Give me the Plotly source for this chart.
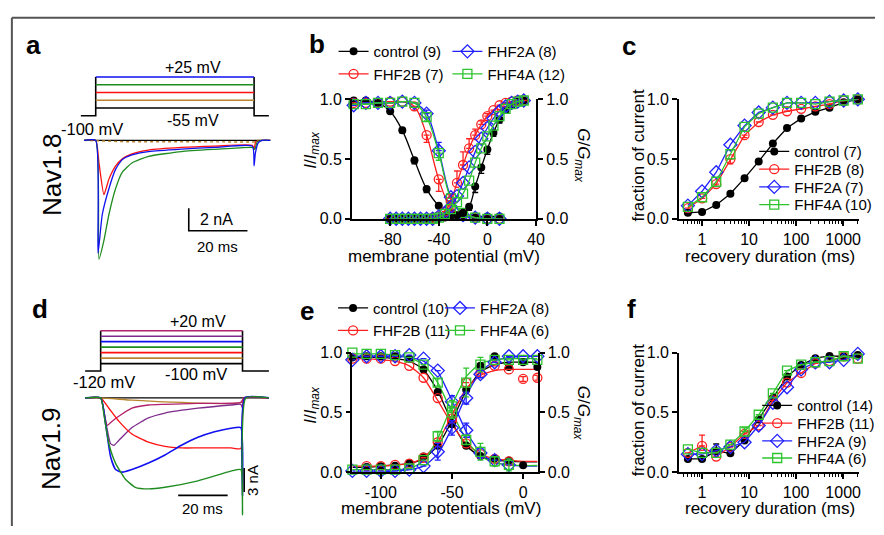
import plotly.graph_objects as go

W, H = 884, 535
FONT = "Arial, Liberation Sans, sans-serif"

# ======================= DATA =======================
# ---- panel a: Nav1.8 protocol (mV) and current traces (ms, nA) ----
a_step_mV = [-55, -35, -15, 5, 25]
a_pulse_ms = [0.0, 53.96]
a_hold_ms = [-5.06, 59.0]

a_t_blue = [-3.95, 0.0, 0.78, 2.23, 4.49, 6.75, 8.97, 12.34, 17.98, 29.21, 40.47, 53.39, 53.96, 54.40, 55.41, 56.76, 59.46]
a_i_blue = [0, 0, -9.99, -6.56, -4.28, -2.57, -1.71, -1.29, -0.99, -0.77, -0.63, -0.51, -2.25, -1.14, -0.2, 0, 0]
a_t_green = [-3.95, 0.0, 1.11, 2.80, 4.49, 6.75, 8.97, 12.34, 17.98, 29.21, 40.47, 53.39, 54.2, 55.1, 56.76, 59.46]
a_i_green = [0, 0, -10.51, -8.85, -6.56, -4.28, -2.85, -2.00, -1.42, -0.99, -0.80, -0.63, -0.80, -0.10, 0, 0]
a_t_red = [-3.95, 0.0, 1.11, 2.80, 4.49, 6.75, 8.97, 12.34, 17.98, 29.21, 40.47, 53.39, 53.96, 54.57, 56.76, 59.46]
a_i_red = [0, 0, -2.00, -4.80, -3.43, -2.28, -1.65, -1.20, -0.86, -0.63, -0.51, -0.43, -0.80, -0.10, 0, 0]
a_t_brown = [-3.95, 0, 10, 30, 53.96, 54.6, 59.46]
a_i_brown = [0, -0.05, -0.12, -0.12, -0.15, 0, 0]
a_t_black = [-3.95, 59.46]
a_i_black = [0, 0]
a_bar_ms, a_bar_nA = 20, 2

# ---- panel d: Nav1.9 protocol and traces ----
d_step_mV = [-100, -80, -60, -40, -20, 0, 20]
d_pulse_ms = [0.0, 57.32]
d_hold_ms = [-6.28, 68.0]

d_t_green = [-6.28, 0, 1.32, 3.32, 6.0, 10.0, 14.0, 19.32, 26.0, 39.32, 52.64, 56.64, 57.32, 58.64, 68.0]
d_i_green = [0, 0, -2.08, -5.68, -8.08, -10.08, -11.08, -11.28, -11.08, -10.28, -9.08, -8.88, -14.48, 0, 0]
d_t_blue = [-6.28, 0, 2.0, 4.0, 6.0, 8.64, 12.64, 19.32, 26.0, 32.64, 39.32, 46.0, 52.64, 56.64, 57.32, 58.24, 68.0]
d_i_blue = [0, 0, -3.28, -7.28, -8.88, -9.2, -8.88, -8.08, -7.08, -5.88, -4.88, -4.2, -3.76, -3.68, -12.08, 0, 0]
d_t_red = [-6.28, 0, 3.32, 7.32, 12.64, 19.32, 26.0, 32.64, 39.32, 52.64, 56.64, 57.32, 58.0, 68.0]
d_i_red = [0, 0, -1.28, -2.88, -4.48, -5.48, -6.0, -6.2, -6.2, -6.2, -6.28, -2.08, 0, 0]
d_t_purple = [-6.28, 0, 2.0, 4.0, 5.32, 7.32, 12.64, 19.32, 26.0, 39.32, 52.64, 56.64, 57.32, 58.0, 68.0]
d_i_purple = [0, 0, -2.88, -5.68, -5.88, -5.28, -3.68, -2.48, -1.88, -1.28, -0.88, -0.8, -1.28, 0, 0]
d_t_crimson = [-6.28, 0, 1.32, 2.64, 4.64, 7.32, 12.64, 19.32, 26.0, 39.32, 56.64, 58.0, 68.0]
d_i_crimson = [0, 0, -1.68, -3.4, -2.88, -2.28, -1.28, -0.88, -0.8, -0.68, -0.56, 0, 0]
d_t_brown = [-6.28, 0, 12.64, 26.0, 56.64, 58.0, 68.0]
d_i_brown = [0, 0, -0.28, -0.48, -0.6, 0, 0]
d_t_black = [-6.28, 68.0]
d_i_black = [0, 0]
d_bar_ms, d_bar_nA = 20, 3

# ---- panel b: Nav1.8 steady-state inactivation / activation ----
b_v_inact = [-110, -100, -90, -80, -70, -60, -50, -40, -30, -20, -10, 0, 10]
b_inact_ctrl = [0.99, 0.99, 0.97, 0.90, 0.74, 0.49, 0.25, 0.11, 0.05, 0.03, 0.02, 0.02, 0.02]
b_inact_2b = [0.97, 0.97, 0.97, 0.98, 0.98, 0.94, 0.70, 0.33, 0.09, 0.03, 0.01, 0.0, 0.0]
b_inact_2a = [0.95, 0.97, 0.97, 0.97, 0.98, 0.97, 0.88, 0.57, 0.18, 0.03, 0.01, 0.0, 0.0]
b_inact_4a = [0.96, 0.96, 0.97, 0.97, 0.98, 0.97, 0.85, 0.55, 0.17, 0.05, 0.01, 0.0, 0.0]
b_err_inact_ctrl = [0, 0, 0, 0.01, 0.02, 0.03, 0.03, 0.02, 0.02, 0, 0, 0, 0]
b_err_inact_2b = [0, 0, 0, 0, 0, 0.03, 0.06, 0.10, 0.03, 0, 0, 0, 0]
b_err_inact_2a = [0, 0, 0, 0, 0, 0, 0.03, 0.07, 0.03, 0, 0, 0, 0]
b_err_inact_4a = [0, 0, 0, 0, 0, 0, 0.03, 0.06, 0.02, 0, 0, 0, 0]

b_v_act = [-80, -75, -70, -65, -60, -55, -50, -45, -40, -35, -30, -25, -20, -15, -10, -5, 0, 5, 10, 15, 20, 25, 30]
b_act_ctrl = [0, 0, 0, 0, 0, 0, 0, 0, 0.005, 0.01, 0.02, 0.03, 0.05, 0.10, 0.27, 0.43, 0.58, 0.72, 0.83, 0.91, 0.95, 0.98, 0.99]
b_act_2b = [0, 0, 0, 0, 0, 0, 0, 0.01, 0.02, 0.06, 0.15, 0.30, 0.45, 0.59, 0.70, 0.79, 0.86, 0.91, 0.95, 0.97, 0.98, 0.99, 0.99]
b_act_2a = [0, 0, 0, 0, 0, 0, 0, 0, 0.02, 0.05, 0.10, 0.19, 0.30, 0.43, 0.56, 0.67, 0.76, 0.84, 0.90, 0.94, 0.97, 0.98, 0.99]
b_act_4a = [0, 0, 0, 0, 0, 0, 0, 0, 0.01, 0.04, 0.08, 0.14, 0.21, 0.32, 0.47, 0.59, 0.69, 0.78, 0.86, 0.92, 0.96, 0.98, 0.99]
b_err_act_ctrl = [0, 0, 0, 0, 0, 0, 0, 0, 0, 0, 0, 0.01, 0.02, 0.03, 0.05, 0.05, 0.04, 0.03, 0.03, 0.02, 0, 0, 0]
b_err_act_2b = [0, 0, 0, 0, 0, 0, 0, 0, 0, 0.02, 0.05, 0.10, 0.11, 0.08, 0.05, 0.03, 0.02, 0, 0, 0, 0, 0, 0]

# ---- panels c / f: recovery from inactivation ----
rec_ms = [0.5, 1, 2, 4, 8, 16, 32, 64, 128, 256, 512, 1024, 2048]
c_ctrl = [0.05, 0.057, 0.116, 0.21, 0.34, 0.48, 0.63, 0.76, 0.84, 0.895, 0.93, 0.975, 1.0]
c_2b = [0.09, 0.17, 0.29, 0.50, 0.70, 0.81, 0.87, 0.90, 0.92, 0.94, 0.96, 0.99, 1.0]
c_2a = [0.11, 0.23, 0.39, 0.62, 0.78, 0.89, 0.93, 0.97, 0.97, 0.97, 0.98, 0.99, 1.0]
c_4a = [0.10, 0.18, 0.31, 0.54, 0.77, 0.88, 0.93, 0.97, 0.97, 0.96, 0.98, 0.99, 1.0]
c_err_2b = [0, 0, 0.02, 0.04, 0.02, 0, 0, 0, 0, 0, 0, 0, 0]
c_err_ctrl = [0, 0, 0, 0, 0, 0, 0, 0, 0.01, 0.02, 0.01, 0, 0]

f_ctrl = [0.11, 0.11, 0.175, 0.157, 0.265, 0.44, 0.62, 0.80, 0.897, 0.954, 0.973, 0.968, 0.98]
f_2b = [0.16, 0.22, 0.13, 0.21, 0.32, 0.39, 0.60, 0.75, 0.83, 0.91, 0.93, 0.97, 0.95]
f_2a = [0.15, 0.15, 0.18, 0.21, 0.25, 0.39, 0.58, 0.71, 0.86, 0.92, 0.92, 0.94, 0.99]
f_4a = [0.19, 0.16, 0.16, 0.23, 0.34, 0.48, 0.66, 0.85, 0.90, 0.92, 0.93, 0.97, 0.95]
f_err_ctrl = [0, 0, 0.06, 0, 0, 0.02, 0, 0, 0, 0, 0, 0, 0]
f_err_2b = [0, 0.09, 0, 0, 0.02, 0, 0, 0, 0, 0, 0, 0, 0]
f_err_4a = [0, 0, 0, 0, 0.03, 0, 0, 0, 0, 0, 0, 0, 0]

# ---- panel e: Nav1.9 inactivation / activation ----
e_v_inact = [-120, -110, -100, -90, -80, -70, -60, -50, -40, -30, -20, -10, 0]
e_inact_ctrl = [0.96, 0.97, 0.97, 0.97, 0.95, 0.86, 0.67, 0.41, 0.22, 0.135, 0.116, 0.097, 0.057]
e_inact_2b = [0.95, 0.95, 0.95, 0.93, 0.89, 0.79, 0.62, 0.43, 0.24, 0.15, 0.11, 0.09]
e_inact_2a = [0.94, 0.97, 0.97, 0.97, 0.98, 0.95, 0.85, 0.59, 0.35, 0.16, 0.10, 0.06]
e_inact_4a = [1.0, 0.99, 0.99, 0.98, 0.96, 0.90, 0.75, 0.55, 0.27, 0.17, 0.09, 0.06]
e_err_inact_2a = [0, 0, 0, 0, 0, 0, 0, 0.05, 0.06, 0.04, 0, 0]
e_err_inact_4a = [0, 0, 0, 0, 0, 0, 0.03, 0.05, 0.04, 0.07, 0.04, 0.05]

e_v_act = [-120, -110, -100, -90, -80, -70, -60, -50, -40, -30, -20, -10, 0, 10]
e_act_ctrl = [None, 0.043, 0.049, 0.054, 0.076, 0.13, 0.22, 0.40, 0.69, 0.89, 0.97, 0.88, 0.92, 0.88]
e_act_2b = [None, 0.05, 0.05, 0.06, 0.07, 0.12, 0.25, 0.45, 0.75, 0.83, 0.89, 0.86, 0.78, 0.79]
e_act_2a = [0.01, 0.01, 0.01, 0.01, 0.02, 0.05, 0.17, 0.37, 0.62, 0.82, 0.92, 0.97, 0.97, 0.97]
e_act_4a = [0.02, 0.02, 0.02, 0.02, 0.03, 0.10, 0.30, 0.50, 0.75, 0.90, 0.94, 0.94, 0.94, 0.94]
e_err_act_2a = [0, 0, 0, 0, 0, 0, 0.07, 0.06, 0.05, 0.03, 0, 0, 0, 0]
e_err_act_4a = [0, 0, 0, 0, 0, 0, 0.04, 0.05, 0.12, 0.06, 0, 0, 0, 0]
e_err_act_2b = [0, 0, 0, 0, 0, 0, 0, 0, 0, 0, 0, 0, 0.02, 0.02]

# Boltzmann fit curves (panel e)
e_v_fit = [-120, -110, -100, -90, -80, -70, -60, -50, -40, -30, -20, -10, 0, 10]
e_fit_inact_ctrl = [0.96, 0.96, 0.96, 0.95, 0.93, 0.86, 0.68, 0.42, 0.22, 0.13, 0.10, 0.09, 0.085, 0.085]
e_fit_inact_2b = [0.95, 0.95, 0.94, 0.93, 0.89, 0.79, 0.60, 0.40, 0.24, 0.15, 0.11, 0.10, 0.09, 0.09]
e_fit_inact_2a = [0.97, 0.97, 0.97, 0.97, 0.96, 0.93, 0.84, 0.60, 0.34, 0.16, 0.08, 0.06, 0.05, 0.05]
e_fit_inact_4a = [0.99, 0.99, 0.99, 0.98, 0.96, 0.90, 0.75, 0.50, 0.27, 0.13, 0.08, 0.06, 0.055, 0.055]
e_fit_act_ctrl = [0.04, 0.04, 0.05, 0.06, 0.07, 0.11, 0.22, 0.43, 0.68, 0.84, 0.90, 0.92, 0.92, 0.92]
e_fit_act_2b = [0.05, 0.05, 0.05, 0.06, 0.07, 0.12, 0.25, 0.48, 0.70, 0.81, 0.85, 0.86, 0.86, 0.86]
e_fit_act_2a = [0.0, 0.0, 0.0, 0.01, 0.02, 0.05, 0.15, 0.37, 0.64, 0.84, 0.93, 0.96, 0.97, 0.97]
e_fit_act_4a = [0.02, 0.02, 0.02, 0.02, 0.03, 0.09, 0.28, 0.56, 0.80, 0.91, 0.94, 0.95, 0.95, 0.95]

y_ticks = [0, 0.5, 1.0]
y_ticktext = ["0.0", "0.5", "1.0"]
b_xticks = [-80, -40, 0, 40]
b_xticktext = ["-80", "-40", "0", "40"]
e_xticks = [-100, -50, 0]
e_xticktext = ["-100", "-50", "0"]
rec_ticks = [1, 10, 100, 1000]
rec_ticktext = ["1", "10", "100", "1000"]

names_b = ["control (9)", "FHF2B (7)", "FHF2A (8)", "FHF4A (12)"]
names_c = ["control (7)", "FHF2B (8)", "FHF2A (7)", "FHF4A (10)"]
names_e = ["control (10)", "FHF2B (11)", "FHF2A (8)", "FHF4A (6)"]
names_f = ["control (14)", "FHF2B (11)", "FHF2A (9)", "FHF4A (6)"]

# ======================= STYLE / HELPERS =======================
BLACK = "black"
RED = "#ff2020"
BLUE = "#2020ff"
GREEN = "#2ec42e"
T_GREEN = "#1f8c1f"
T_BROWN = "#b8862e"
T_PURPLE = "#7d2a8c"
T_CRIMSON = "#b3206a"
T_BLUE = "#1010f0"
T_RED = "#ff1010"


def px(x):
    return x / W


def py(y):
    return 1 - y / H


def dom_x(a, b):
    return [a / W, b / W]


def dom_y(top, bottom):
    return [1 - bottom / H, 1 - top / H]


MARK = {
    "ctrl": dict(symbol="circle", size=8, color=BLACK, line=dict(width=0)),
    "2b": dict(symbol="circle-open", size=9, color=RED, line=dict(width=1.3, color=RED)),
    "2a": dict(symbol="diamond-open", size=10, color=BLUE, line=dict(width=1.3, color=BLUE)),
    "4a": dict(symbol="square-open", size=9, color=GREEN, line=dict(width=1.3, color=GREEN)),
}
COL = {"ctrl": BLACK, "2b": RED, "2a": BLUE, "4a": GREEN}

fig = go.Figure()


def err(plus=None, minus=None, color="black"):
    if plus is None and minus is None:
        return None
    n = len(plus if plus is not None else minus)
    return dict(type="data", symmetric=False,
                array=plus if plus is not None else [0] * n,
                arrayminus=minus if minus is not None else [0] * n,
                color=color, thickness=1.3, width=3)


def data_trace(x, y, key, xa, ya, name=None, legend=None, shape="linear", plus=None, minus=None,
               mode="lines+markers", show=False):
    fig.add_trace(go.Scatter(
        x=x, y=y, mode=mode, xaxis=xa, yaxis=ya, name=name,
        marker=MARK[key], line=dict(color=COL[key], width=1.3, shape=shape),
        error_y=err(plus, minus, COL[key]), cliponaxis=False,
        showlegend=show, legend=legend, connectgaps=False, hoverinfo="skip"))


def legend_entry(key, name, legend, xa, ya):
    # legend-only sample (line + marker), no data marks
    fig.add_trace(go.Scatter(x=[None], y=[None], mode="lines+markers", xaxis=xa, yaxis=ya, name=name,
                             marker=MARK[key], line=dict(color=COL[key], width=1.3),
                             showlegend=True, legend=legend, hoverinfo="skip"))


def line_trace(x, y, color, xa, ya, width=1.3, dash="solid", shape="linear"):
    fig.add_trace(go.Scatter(x=x, y=y, mode="lines", xaxis=xa, yaxis=ya,
                             line=dict(color=color, width=width, dash=dash, shape=shape, smoothing=0.5),
                             showlegend=False, hoverinfo="skip", cliponaxis=False))


# ======================= PANEL a =======================
a_cols = [BLACK, T_BROWN, T_RED, T_GREEN, T_BLUE]
top_a = len(a_step_mV) - 1
line_trace([a_hold_ms[0], a_pulse_ms[0], a_pulse_ms[0]], [-1, -1, top_a], BLACK, "x", "y2", 1.6)
line_trace([a_pulse_ms[1], a_pulse_ms[1], a_hold_ms[1]], [top_a, -1, -1], BLACK, "x", "y2", 1.6)
for i, c in enumerate(a_cols):
    line_trace(a_pulse_ms, [i, i], c, "x", "y2", 1.6)

line_trace(a_t_black, a_i_black, BLACK, "x", "y", 1.2)
line_trace(a_t_brown, a_i_brown, T_BROWN, "x", "y", 1.4, dash="dot")
line_trace(a_t_red, a_i_red, T_RED, "x", "y", 1.3, shape="spline")
line_trace(a_t_green, a_i_green, T_GREEN, "x", "y", 1.3, shape="spline")
line_trace(a_t_blue, a_i_blue, T_BLUE, "x", "y", 1.3, shape="spline")
a_bar_x0, a_bar_y0 = 31.7, -8.0
line_trace([a_bar_x0, a_bar_x0, a_bar_x0 + a_bar_ms], [a_bar_y0 + a_bar_nA, a_bar_y0, a_bar_y0], BLACK, "x", "y", 1.6)

# ======================= PANEL d =======================
d_cols = [BLACK, T_BROWN, T_RED, T_GREEN, T_BLUE, T_PURPLE, T_CRIMSON]
top_d = len(d_step_mV) - 1
d_hold_idx = -1.35
line_trace([d_hold_ms[0], d_pulse_ms[0], d_pulse_ms[0]], [d_hold_idx, d_hold_idx, top_d], BLACK, "x4", "y7", 1.6)
line_trace([d_pulse_ms[1], d_pulse_ms[1], d_hold_ms[1]], [top_d, d_hold_idx, d_hold_idx], BLACK, "x4", "y7", 1.6)
for i, c in enumerate(d_cols):
    line_trace(d_pulse_ms, [i, i], c, "x4", "y7", 1.6)

line_trace(d_t_black, d_i_black, BLACK, "x4", "y6", 1.2)
line_trace(d_t_brown, d_i_brown, T_BROWN, "x4", "y6", 1.3, shape="spline")
line_trace(d_t_crimson, d_i_crimson, T_CRIMSON, "x4", "y6", 1.3, shape="spline")
line_trace(d_t_purple, d_i_purple, T_PURPLE, "x4", "y6", 1.3, shape="spline")
line_trace(d_t_red, d_i_red, T_RED, "x4", "y6", 1.3, shape="spline")
line_trace(d_t_blue, d_i_blue, T_BLUE, "x4", "y6", 1.6, shape="spline")
line_trace(d_t_green, d_i_green, T_GREEN, "x4", "y6", 1.4, shape="spline")
d_vbar_x, d_vbar_y0 = 58.0, -11.68
line_trace([d_vbar_x, d_vbar_x], [d_vbar_y0, d_vbar_y0 + d_bar_nA], BLACK, "x4", "y6", 1.6)
d_hbar_x0, d_hbar_y = 31.32, -12.08
line_trace([d_hbar_x0, d_hbar_x0 + d_bar_ms], [d_hbar_y, d_hbar_y], BLACK, "x4", "y6", 1.6)

# ======================= PANEL b =======================
b_sets = [("ctrl", b_inact_ctrl, b_act_ctrl, None, b_err_inact_ctrl, None, b_err_act_ctrl, "legend"),
          ("2b", b_inact_2b, b_act_2b, None, b_err_inact_2b, b_err_act_2b, None, "legend"),
          ("2a", b_inact_2a, b_act_2a, b_err_inact_2a, None, None, None, "legend2"),
          ("4a", b_inact_4a, b_act_4a, None, b_err_inact_4a, None, None, "legend2")]
for (k, inact, act, ip, im, ap, am, lg), nm in zip(b_sets, names_b):
    data_trace(b_v_act, act, k, "x2", "y4", shape="spline", plus=ap, minus=am)
    data_trace(b_v_inact, inact, k, "x2", "y3", name=nm, legend=lg, shape="spline", plus=ip, minus=im, show=True)

# ======================= PANEL c =======================
c_sets = [("ctrl", c_ctrl, c_err_ctrl, None), ("2b", c_2b, None, c_err_2b), ("2a", c_2a, None, None), ("4a", c_4a, None, None)]
c_legs = ["legend3", "legend7", "legend8", "legend9"]
for (k, vals, ep, em), nm, lg in zip(c_sets, names_c, c_legs):
    data_trace(rec_ms, vals, k, "x3", "y5", name=nm, legend=lg, plus=ep, minus=em, show=True)

# ======================= PANEL e =======================
e_fits = [("ctrl", e_fit_inact_ctrl, e_fit_act_ctrl), ("2b", e_fit_inact_2b, e_fit_act_2b),
          ("2a", e_fit_inact_2a, e_fit_act_2a), ("4a", e_fit_inact_4a, e_fit_act_4a)]
for k, fi, fa in e_fits:
    line_trace(e_v_fit, fi, COL[k], "x5", "y8", 1.3, shape="spline")
    line_trace(e_v_fit, fa, COL[k], "x5", "y9", 1.3, shape="spline")
e_sets = [("ctrl", e_inact_ctrl, e_act_ctrl, None, None, "legend4"),
          ("2b", e_inact_2b, e_act_2b, None, e_err_act_2b, "legend4"),
          ("2a", e_inact_2a, e_act_2a, e_err_inact_2a, e_err_act_2a, "legend5"),
          ("4a", e_inact_4a, e_act_4a, e_err_inact_4a, e_err_act_4a, "legend5")]
for (k, inact, act, ei, ea, lg), nm in zip(e_sets, names_e):
    data_trace(e_v_act, act, k, "x5", "y9", mode="markers", plus=ea, minus=ea)
    data_trace(e_v_inact[:len(inact)], inact, k, "x5", "y8", mode="markers", plus=ei, minus=ei)
    legend_entry(k, nm, lg, "x5", "y8")

# ======================= PANEL f =======================
f_sets = [("ctrl", f_ctrl, f_err_ctrl), ("2b", f_2b, f_err_2b), ("2a", f_2a, None), ("4a", f_4a, f_err_4a)]
f_legs = ["legend6", "legend10", "legend11", "legend12"]
for (k, vals, e), nm, lg in zip(f_sets, names_f, f_legs):
    data_trace(rec_ms, vals, k, "x6", "y10", name=nm, legend=lg, plus=e, show=True)

# ======================= LAYOUT =======================
hidden = dict(visible=False, showgrid=False, zeroline=False, fixedrange=True)
ax = dict(showline=True, linecolor="black", linewidth=1.6, ticks="outside", ticklen=5, tickwidth=1.5,
          tickcolor="black", showgrid=False, zeroline=False, tickfont=dict(family=FONT, size=16, color="black"))
yax = dict(ax, range=[0, 1], tickvals=y_ticks, ticktext=y_ticktext)
minor_log = dict(ticks="outside", ticklen=3, tickwidth=1, tickcolor="black", showgrid=False,
                 tickvals=[0.4, 0.5, 0.6, 0.7, 0.8, 0.9, 2, 3, 4, 5, 6, 7, 8, 9, 20, 30, 40, 50, 60, 70, 80, 90,
                           200, 300, 400, 500, 600, 700, 800, 900, 2000])
logx = dict(ax, type="log", range=[-0.49, 3.34], tickvals=rec_ticks, ticktext=rec_ticktext, minor=minor_log)

LEG_OFF = 22  # vertical offset from legend top to first row centre


def leg(x, row_y):
    return dict(x=px(x), y=py(row_y - LEG_OFF), xanchor="left", yanchor="top", bgcolor="rgba(0,0,0,0)",
                font=dict(family=FONT, size=15, color="black"), tracegroupgap=0, itemwidth=30)


layout = dict(
    width=W, height=H, margin=dict(l=0, r=0, t=0, b=0),
    paper_bgcolor="white", plot_bgcolor="rgba(0,0,0,0)",
    font=dict(family=FONT, color="black"),
    xaxis=dict(hidden, domain=dom_x(60, 290), range=[-12.38, 65.19], anchor="y"),
    yaxis=dict(hidden, domain=dom_y(128, 265), range=[-10.99, 0.745], anchor="x"),
    yaxis2=dict(hidden, domain=dom_y(60, 118), range=[-1.84, 5.41], anchor="x"),
    xaxis2=dict(ax, domain=dom_x(355.5, 541.7), range=[-111.5, 40.2], anchor="y3",
                tickvals=b_xticks, ticktext=b_xticktext),
    yaxis3=dict(yax, domain=dom_y(94.3, 217.7), anchor="x2"),
    yaxis4=dict(yax, overlaying="y3", side="right", anchor="x2"),
    xaxis3=dict(logx, domain=dom_x(686, 868), anchor="y5"),
    yaxis5=dict(yax, domain=dom_y(94.3, 217.7), anchor="x3"),
    xaxis4=dict(hidden, domain=dom_x(60, 290), range=[-16.68, 75.32], anchor="y6"),
    yaxis6=dict(hidden, domain=dom_y(395, 530), range=[-15.28, 0.924], anchor="x4"),
    yaxis7=dict(hidden, domain=dom_y(325, 385), range=[-3.12, 7.46], anchor="x4"),
    xaxis5=dict(ax, domain=dom_x(356, 543.3), range=[-120, 10.3], anchor="y8",
                tickvals=e_xticks, ticktext=e_xticktext),
    yaxis8=dict(yax, domain=dom_y(356, 479.3), anchor="x5"),
    yaxis9=dict(yax, overlaying="y8", side="right", anchor="x5"),
    xaxis6=dict(logx, domain=dom_x(686, 868), anchor="y10"),
    yaxis10=dict(yax, domain=dom_y(356, 479.3), anchor="x6"),
    legend=leg(337, 50),
    legend2=leg(452, 50),
    legend3=leg(762, 153.3),
    legend7=leg(762, 171.7),
    legend8=leg(762, 190),
    legend9=leg(762, 208.3),
    legend4=leg(336.5, 315),
    legend5=leg(444.5, 315),
    legend6=leg(765, 415.7),
    legend10=leg(765, 434),
    legend11=leg(765, 452.3),
    legend12=leg(765, 470),
)
fig.update_layout(**layout)


def txt(s, x, y, size=16, angle=0, bold=False, xanchor="center"):
    if bold:
        s = "<b>" + s + "</b>"
    fig.add_annotation(text=s, x=px(x), y=py(y), xref="paper", yref="paper", showarrow=False,
                       xanchor=xanchor, yanchor="middle", textangle=angle,
                       font=dict(family=FONT, size=size, color="black"))


for s, x, y in [("a", 34, 38), ("b", 320, 37), ("c", 635, 39), ("d", 40.5, 311), ("e", 310, 313), ("f", 638, 311)]:
    txt(s, x, y, size=26, bold=True)

txt("+25 mV", 195, 61.7)
txt("-55 mV", 195, 116.7)
txt("-100 mV", 93, 125, size=16.5)
txt("Nav1.8", 52, 172, size=26, angle=-90)
txt("2 nA", 200, 218, size=16, xanchor="left")
txt("20 ms", 220, 246.7, size=15)
txt("+20 mV", 200, 323.3)
txt("-100 mV", 198, 378.3, size=16.5)
txt("-120 mV", 105, 386.7, size=16.5)
txt("Nav1.9", 51, 455, size=26, angle=-90)
txt("3 nA", 255, 488, size=15, angle=-90)
txt("20 ms", 205, 516.7, size=15)

IIMAX = "<i>I</i>/<i>I</i><sub><i>max</i></sub>"
GGMAX = "<i>G</i>/<i>G</i><sub><i>max</i></sub>"
txt(IIMAX, 315, 146.7, size=17, angle=-90)
txt(GGMAX, 588, 152, size=17, angle=90)
txt("membrane potential (mV)", 448.3, 256.7, size=17)
txt("fraction of current", 645, 152, size=17, angle=-90)
txt("recovery duration (ms)", 778, 256.7, size=17)
txt(IIMAX, 315, 410, size=17, angle=-90)
txt(GGMAX, 588, 418, size=17, angle=90)
txt("membrane potentials (mV)", 446, 516.7, size=17)
txt("fraction of current", 645, 415, size=17, angle=-90)
txt("recovery duration (ms)", 778, 516.7, size=17)

fig.add_shape(type="line", xref="paper", yref="paper", x0=px(12), x1=1, y0=py(10), y1=py(10),
              line=dict(color="#555555", width=2))
fig.add_shape(type="line", xref="paper", yref="paper", x0=px(12), x1=px(12), y0=py(10), y1=0,
              line=dict(color="#555555", width=2))

fig.write_html("out.html")
